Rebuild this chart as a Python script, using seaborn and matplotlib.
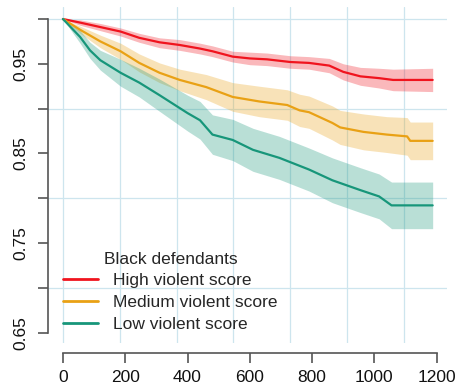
import numpy as np
import pandas as pd
import seaborn as sns
import matplotlib.pyplot as plt
from matplotlib.lines import Line2D

# Grupos e cores
grupos = ['High violent score', 'Medium violent score', 'Low violent score']
cores = ['#F0141E', '#E9A115', '#17967A']
titulo_legenda = 'Black defendants'

# Curvas de sobrevivência
t_high = [0, 55, 120, 185, 245, 310, 375, 440, 480, 545, 600, 655, 730, 790, 855, 900, 955, 1015, 1060, 1187]
s_high = [1.0, 0.996, 0.991, 0.986, 0.979, 0.974, 0.971, 0.967, 0.964, 0.958, 0.956, 0.955, 0.952, 0.951, 0.948, 0.941, 0.936, 0.934, 0.932, 0.932]
lo_high = [1.0, 0.993, 0.987, 0.981, 0.974, 0.968, 0.965, 0.961, 0.958, 0.952, 0.949, 0.948, 0.945, 0.944, 0.940, 0.932, 0.926, 0.923, 0.920, 0.919]
hi_high = [1.0, 0.999, 0.995, 0.990, 0.984, 0.979, 0.977, 0.973, 0.970, 0.964, 0.963, 0.962, 0.959, 0.958, 0.956, 0.950, 0.946, 0.945, 0.944, 0.945]

t_med = [0, 55, 120, 185, 245, 310, 375, 460, 545, 630, 720, 760, 790, 865, 890, 965, 1040, 1105, 1115, 1187]
s_med = [1.0, 0.988, 0.975, 0.964, 0.951, 0.940, 0.932, 0.924, 0.913, 0.908, 0.904, 0.898, 0.896, 0.884, 0.879, 0.874, 0.871, 0.869, 0.864, 0.864]
lo_med = [1.0, 0.984, 0.968, 0.955, 0.941, 0.929, 0.920, 0.910, 0.897, 0.891, 0.887, 0.880, 0.878, 0.865, 0.860, 0.854, 0.851, 0.848, 0.843, 0.843]
hi_med = [1.0, 0.992, 0.982, 0.973, 0.961, 0.951, 0.944, 0.938, 0.929, 0.925, 0.921, 0.916, 0.914, 0.903, 0.898, 0.894, 0.891, 0.890, 0.885, 0.885]

t_low = [0, 55, 87, 120, 185, 245, 310, 400, 440, 480, 545, 610, 695, 790, 865, 955, 1015, 1055, 1187]
s_low = [1.0, 0.980, 0.965, 0.954, 0.940, 0.929, 0.915, 0.895, 0.887, 0.871, 0.865, 0.854, 0.845, 0.832, 0.820, 0.809, 0.802, 0.792, 0.792]
lo_low = [1.0, 0.973, 0.956, 0.943, 0.925, 0.913, 0.897, 0.875, 0.866, 0.849, 0.842, 0.830, 0.821, 0.808, 0.795, 0.784, 0.777, 0.766, 0.766]
hi_low = [1.0, 0.987, 0.974, 0.965, 0.955, 0.945, 0.933, 0.915, 0.908, 0.893, 0.888, 0.878, 0.869, 0.856, 0.845, 0.834, 0.827, 0.818, 0.818]

# Eixos
x_ticks = [0, 200, 400, 600, 800, 1000, 1200]
y_ticks = [0.65, 0.70, 0.75, 0.80, 0.85, 0.90, 0.95, 1.00]
y_labels = ['0.65', '', '0.75', '', '0.85', '', '0.95', '']
grade_x = [0, 182.5, 365, 547.5, 730, 912.5, 1095]
grade_y = [0.7, 0.8, 0.9, 1.0]

# Tabela longa para o seaborn
curvas = [(t_high, s_high, lo_high, hi_high),
          (t_med, s_med, lo_med, hi_med),
          (t_low, s_low, lo_low, hi_low)]
df = pd.concat([pd.DataFrame({'tempo': c[0], 'sobrev': c[1], 'inf': c[2], 'sup': c[3], 'grupo': g})
                for c, g in zip(curvas, grupos)], ignore_index=True)

sns.set_theme(style='white')
plt.rcParams['font.family'] = ['Liberation Sans', 'DejaVu Sans']

fig = plt.figure(figsize=(4.57, 3.84), dpi=100)
ax = fig.add_axes([48 / 457, 1 - 343 / 384, 399 / 457, 336 / 384])

# Grade azul clara
for gx in grade_x:
    ax.axvline(gx, color='#CDE5EE', lw=0.9, zorder=0)
for gy in grade_y:
    ax.axhline(gy, color='#CDE5EE', lw=0.9, zorder=0)

# Intervalos de confiança
for g, cor in zip(grupos, cores):
    d = df[df['grupo'] == g]
    ax.fill_between(d['tempo'], d['inf'], d['sup'], color=cor, alpha=0.3, lw=0, zorder=1)

# Curvas
sns.lineplot(data=df, x='tempo', y='sobrev', hue='grupo', palette=dict(zip(grupos, cores)),
             estimator=None, sort=False, legend=False, lw=1.6, ax=ax, zorder=2)

ax.set_xlim(-48, 1233)
ax.set_ylim(0.6384, 1.0134)
ax.set_xlabel('')
ax.set_ylabel('')

ax.set_xticks(x_ticks)
ax.set_yticks(y_ticks)
ax.set_yticklabels(y_labels)

for lado in ['top', 'right']:
    ax.spines[lado].set_visible(False)
for lado in ['left', 'bottom']:
    ax.spines[lado].set_color('#555555')
    ax.spines[lado].set_linewidth(1.2)
ax.spines['left'].set_bounds(0.65, 1.0)
ax.spines['bottom'].set_bounds(0, 1200)
ax.spines['bottom'].set_position(('outward', 7.2))

ax.tick_params(axis='both', which='major', direction='out', length=7.2, width=1.2,
               color='#555555', labelsize=12.5, labelcolor='#111111',
               bottom=True, left=True)
ax.tick_params(axis='x', pad=5)
ax.tick_params(axis='y', pad=7, labelrotation=90)
for lbl in ax.get_yticklabels():
    lbl.set_va('center')

# Legenda
handles = [Line2D([0], [0], color=c, lw=2) for c in cores]
leg = ax.legend(handles, grupos, title=titulo_legenda, loc='lower left',
                bbox_to_anchor=(0.0376, 0.033), frameon=False, fontsize=12.5,
                title_fontsize=12.5, borderpad=0, borderaxespad=0,
                handlelength=2.0, handletextpad=0.9, labelspacing=0.38)

fig.savefig('out.png', dpi=100)
